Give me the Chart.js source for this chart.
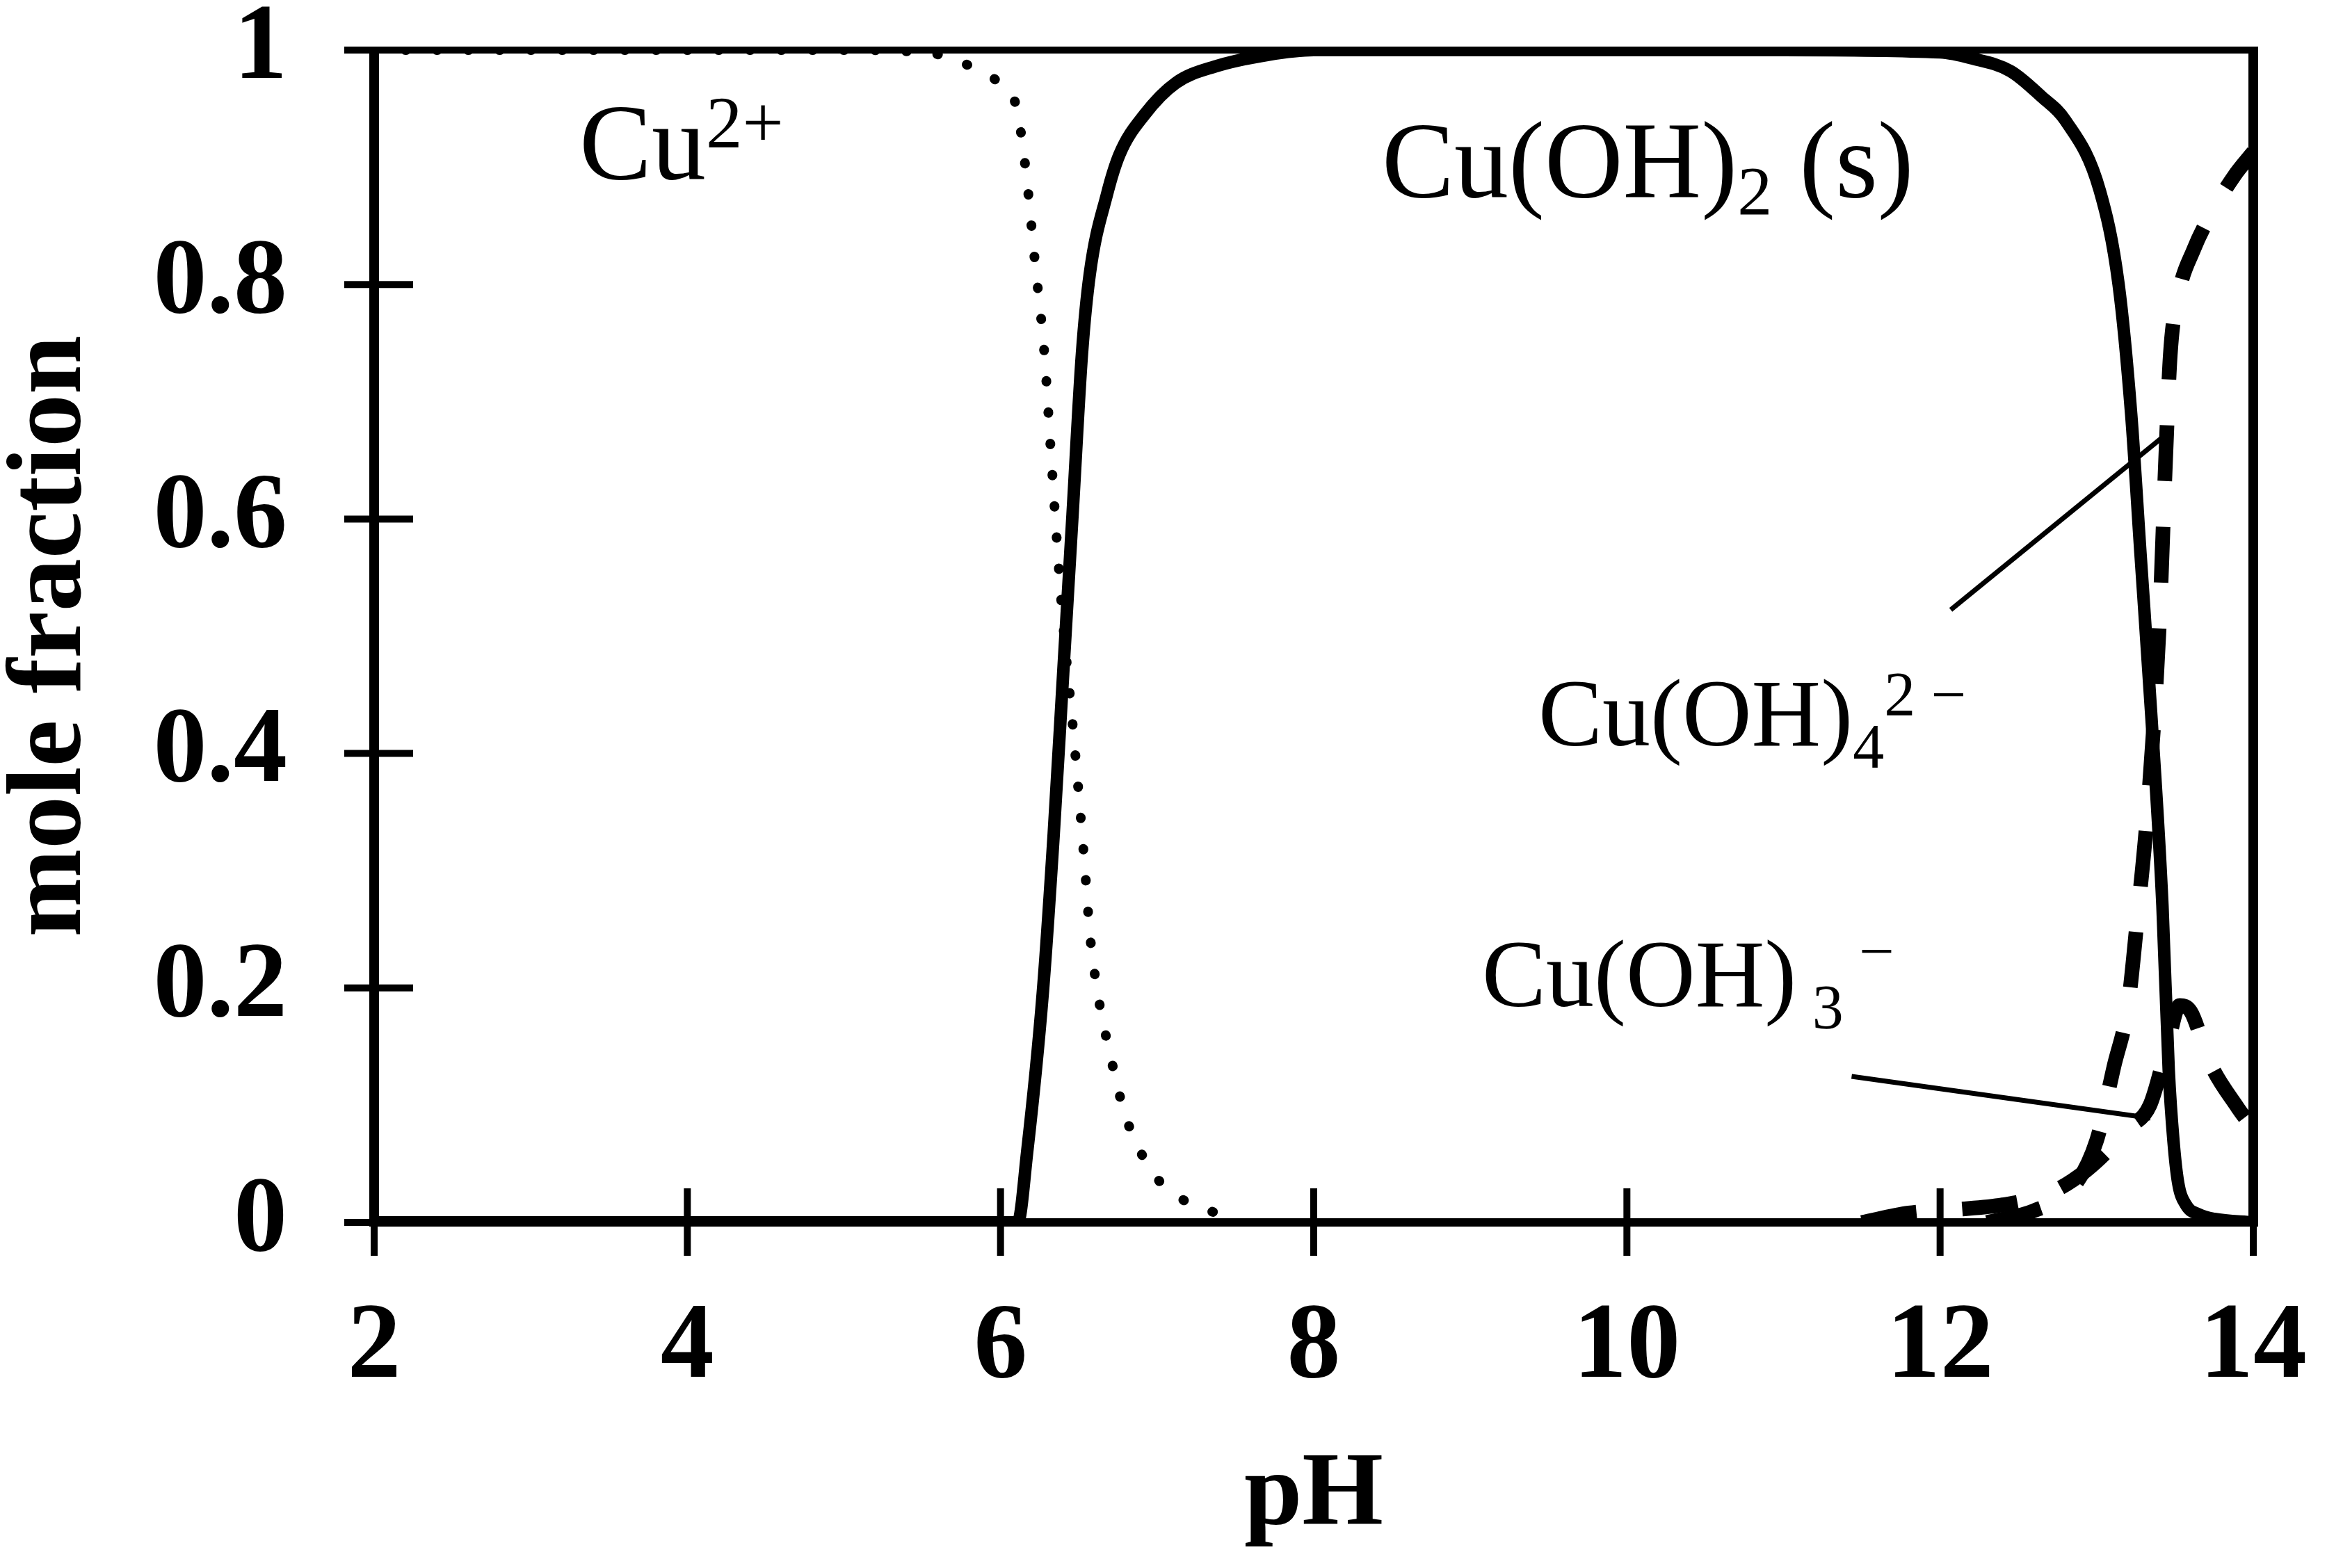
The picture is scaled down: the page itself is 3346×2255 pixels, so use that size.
<!DOCTYPE html>
<html>
<head>
<meta charset="utf-8">
<title>Cu speciation vs pH</title>
<script src="https://cdn.jsdelivr.net/npm/chart.js@4.4.1/dist/chart.umd.min.js"></script>
<style>
  html, body { margin: 0; padding: 0; background: #fff; }
  canvas { display: block; }
</style>
</head>
<body>
<canvas id="speciation" width="3346" height="2255"></canvas>
<script>
// Values (pH, mole fraction)
const ph_cu = [2, 3, 4, 5, 5.4, 5.61, 5.81, 5.99, 6.10, 6.16, 6.22, 6.28, 6.32, 6.36, 6.40, 6.45, 6.49, 6.54, 6.57, 6.62, 6.70, 6.80, 6.97, 7.11, 7.29, 7.49];
const frac_cu = [1, 1, 1, 1, 0.999, 0.996, 0.986, 0.972, 0.952, 0.899, 0.819, 0.741, 0.660, 0.581, 0.51, 0.44, 0.38, 0.30, 0.247, 0.196, 0.143, 0.090, 0.043, 0.024, 0.012, 0.004];

const ph_solid = [2, 6.11, 6.17, 6.27, 6.34, 6.40, 6.46, 6.52, 6.57, 6.68, 6.76, 6.92, 7.12, 7.37, 7.71, 8, 11, 12.0, 12.2, 12.45, 12.65, 12.8, 13.02, 13.14, 13.22, 13.28, 13.35, 13.42, 13.46, 13.49, 13.52, 13.57, 13.65, 13.75, 14];
const frac_solid = [0, 0, 0.06, 0.196, 0.332, 0.468, 0.604, 0.741, 0.809, 0.877, 0.911, 0.945, 0.972, 0.986, 0.996, 1, 1, 0.998, 0.993, 0.982, 0.96, 0.94, 0.88, 0.80, 0.69, 0.57, 0.43, 0.27, 0.13, 0.07, 0.034, 0.015, 0.007, 0.003, 0];

const ph_oh4 = [12.3, 12.6, 12.85, 13.0, 13.11, 13.2, 13.26, 13.33, 13.40, 13.44, 13.47, 13.52, 13.62, 13.75, 13.88, 14];
const frac_oh4 = [0, 0.01, 0.03, 0.07, 0.133, 0.185, 0.26, 0.36, 0.51, 0.65, 0.74, 0.79, 0.83, 0.865, 0.893, 0.913];

const ph_oh3 = [11.5, 11.8, 12.1, 12.4, 12.7, 12.93, 13.1, 13.2, 13.34, 13.45, 13.53, 13.6, 13.72, 13.9, 14];
const frac_oh3 = [0, 0.008, 0.011, 0.015, 0.025, 0.044, 0.065, 0.08, 0.10, 0.15, 0.185, 0.18, 0.137, 0.098, 0.08];

const xTickLabels = ['2', '4', '6', '8', '10', '12', '14'];
const yTickLabels = ['0', '0.2', '0.4', '0.6', '0.8', '1'];

// species labels and leader lines, in data units
const speciesLabels = [
  { ph: 3.31, frac: 0.89, parts: [{ text: 'Cu', size: 156 }, { text: '2+', size: 105, raise: 45 }] },
  { ph: 8.435, frac: 0.875, parts: [{ text: 'Cu(OH)', size: 156 }, { text: '2', size: 100, raise: -25 }, { text: ' (s)', size: 156 }] },
  { ph: 9.434, frac: 0.407, parts: [{ text: 'Cu(OH)', size: 138 }, { text: '4', size: 90, raise: -32 }, { text: '2 \u2212', size: 90, raise: 43 }] },
  { ph: 9.075, frac: 0.1845, parts: [{ text: 'Cu(OH)', size: 138 }, { text: ' 3', size: 90, raise: -32 }, { text: ' \u2212', size: 90, raise: 49 }] }
];
const leaders = [
  [[12.068, 0.5225], [13.447, 0.6726]],
  [[11.435, 0.1246], [13.343, 0.089]]
];

const SERIF = '"Liberation Serif", "Times New Roman", serif';

function points(xs, ys) {
  return xs.map((x, i) => ({ x: x, y: ys[i] }));
}

function line(ctx, x1, y1, x2, y2, w) {
  ctx.lineWidth = w;
  ctx.beginPath();
  ctx.moveTo(x1, y1);
  ctx.lineTo(x2, y2);
  ctx.stroke();
}

function drawFormula(ctx, px, py, parts) {
  var cx = px;
  parts.forEach(p => {
    ctx.font = p.size + 'px ' + SERIF;
    ctx.fillText(p.text, cx, py - (p.raise || 0));
    cx += ctx.measureText(p.text).width;
  });
}

// keep the plot box where the figure has it: no extra room for overhanging labels
function fixSize(scale, w, h) {
  if (w) scale.width = w;
  if (h) scale.height = h;
  scale.paddingTop = 0;
  scale.paddingBottom = 0;
  scale.paddingLeft = 0;
  scale.paddingRight = 0;
}

const framePlugin = {
  id: 'frame',
  afterDatasetsDraw(chart) {
    const ctx = chart.ctx;
    const a = chart.chartArea;
    const xs = chart.scales.x, ys = chart.scales.y;
    ctx.save();
    ctx.strokeStyle = '#000';
    ctx.fillStyle = '#000';
    ctx.lineCap = 'butt';

    // plot frame
    line(ctx, a.left - 7, a.top, a.right + 7, a.top, 10);
    line(ctx, a.left - 7, a.bottom, a.right + 7, a.bottom, 12);
    line(ctx, a.left, a.top, a.left, a.bottom + 6, 14);
    line(ctx, a.right, a.top, a.right, a.bottom + 6, 14);

    // tick marks crossing the axes
    xs.ticks.forEach(t => {
      const px = xs.getPixelForValue(t.value);
      line(ctx, px, a.bottom - 49, px, a.bottom + 48, 10);
    });
    ys.ticks.forEach(t => {
      const py = ys.getPixelForValue(t.value);
      line(ctx, a.left - 43, py, a.left + 56, py, 10);
    });

    // leader lines
    leaders.forEach(l => {
      line(ctx, xs.getPixelForValue(l[0][0]), ys.getPixelForValue(l[0][1]),
        xs.getPixelForValue(l[1][0]), ys.getPixelForValue(l[1][1]), 7);
    });

    // species labels
    ctx.textAlign = 'left';
    ctx.textBaseline = 'alphabetic';
    speciesLabels.forEach(s => {
      drawFormula(ctx, xs.getPixelForValue(s.ph), ys.getPixelForValue(s.frac), s.parts);
    });
    ctx.restore();
  }
};

const ctx = document.getElementById('speciation').getContext('2d');
new Chart(ctx, {
  type: 'line',
  data: {
    datasets: [
      {
        label: 'Cu2+',
        data: points(ph_cu, frac_cu),
        borderColor: '#000',
        borderWidth: 14,
        borderDash: [1, 44],
        borderCapStyle: 'round',
        cubicInterpolationMode: 'monotone',
        pointRadius: 0
      },
      {
        label: 'Cu(OH)2 (s)',
        data: points(ph_solid, frac_solid),
        borderColor: '#000',
        borderWidth: 18,
        cubicInterpolationMode: 'monotone',
        pointRadius: 0
      },
      {
        label: 'Cu(OH)4 2-',
        data: points(ph_oh4, frac_oh4),
        borderColor: '#000',
        borderWidth: 21,
        borderDash: [80, 66],
        cubicInterpolationMode: 'monotone',
        pointRadius: 0
      },
      {
        label: 'Cu(OH)3 -',
        data: points(ph_oh3, frac_oh3),
        borderColor: '#000',
        borderWidth: 21,
        borderDash: [80, 66],
        cubicInterpolationMode: 'monotone',
        pointRadius: 0
      }
    ]
  },
  options: {
    responsive: false,
    devicePixelRatio: 1,
    animation: false,
    layout: { padding: { top: 72, right: 106, left: 0, bottom: 0 } },
    plugins: {
      legend: { display: false },
      tooltip: { enabled: false }
    },
    scales: {
      x: {
        type: 'linear',
        min: 2,
        max: 14,
        grid: { display: false, drawTicks: false },
        border: { display: false },
        ticks: {
          stepSize: 2,
          padding: 90,
          color: '#000',
          font: { family: SERIF, size: 154, weight: 'bold' },
          callback: value => xTickLabels[Math.round((value - 2) / 2)]
        },
        title: {
          display: true,
          text: 'pH',
          color: '#000',
          font: { family: SERIF, size: 150, weight: 'bold', lineHeight: 1 },
          padding: { top: 0, bottom: 27 }
        },
        afterFit: scale => fixSize(scale, 0, 497)
      },
      y: {
        min: 0,
        max: 1,
        grid: { display: false, drawTicks: false },
        border: { display: false },
        ticks: {
          stepSize: 0.2,
          padding: 125,
          color: '#000',
          font: { family: SERIF, size: 154, weight: 'bold' },
          callback: value => yTickLabels[Math.round(value * 5)]
        },
        title: {
          display: true,
          text: 'mole fraction',
          color: '#000',
          font: { family: SERIF, size: 152, weight: 'bold', lineHeight: 1 },
          padding: { top: 0, bottom: 0 }
        },
        afterFit: scale => fixSize(scale, 538, 0)
      }
    }
  },
  plugins: [framePlugin]
});
</script>
</body>
</html>
